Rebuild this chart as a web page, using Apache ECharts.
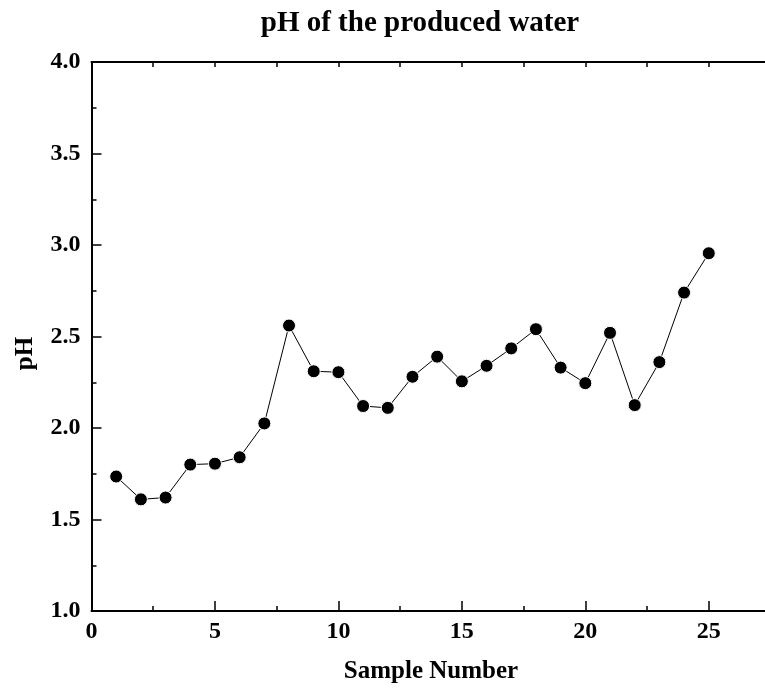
<!DOCTYPE html>
<html>
<head>
<meta charset="utf-8">
<script src="https://cdn.jsdelivr.net/npm/echarts@6/dist/echarts.min.js"></script>
<style>html,body{margin:0;padding:0;background:#fff;}#c{width:765px;height:698px;}</style>
</head>
<body>
<div id="c"></div>
<script>
const sampleNumbers = [1,2,3,4,5,6,7,8,9,10,11,12,13,14,15,16,17,18,19,20,21,22,23,24,25];
const phValues = [1.735,1.61,1.62,1.80,1.805,1.84,2.025,2.56,2.31,2.305,2.12,2.11,2.28,2.39,2.255,2.34,2.435,2.54,2.33,2.245,2.52,2.125,2.36,2.74,2.955];
const xTickLabels = [0,5,10,15,20,25];
const yTickLabels = ['1.0','1.5','2.0','2.5','3.0','3.5','4.0'];

const FONT = '"Liberation Serif", "Times New Roman", serif';
const chart = echarts.init(document.getElementById('c'), null, {renderer:'canvas'});
const points = sampleNumbers.map((x,i)=>[x, phValues[i]]);
chart.setOption({
  animation:false,
  backgroundColor:'#fff',
  title:{
    text:'pH of the produced water',
    left:415, top:4, textAlign:'center',
    textStyle:{fontFamily:FONT, fontWeight:'bold', fontSize:29, color:'#000'}
  },
  grid:{left:91.5, top:62, right:-5.5, bottom:87, containLabel:false, outerBoundsMode:'none'},
  xAxis:[{
    type:'value', min:0, max:27.5, interval:5, position:'bottom',
    name:'Sample Number', nameLocation:'middle', nameGap:48,
    nameTextStyle:{fontFamily:FONT, fontWeight:'bold', fontSize:25, color:'#000'},
    axisLine:{show:true, onZero:false, lineStyle:{color:'#000', width:2}},
    axisTick:{show:true, inside:true, length:10, lineStyle:{color:'#000', width:1.5}},
    minorTick:{show:true, splitNumber:2, length:5, lineStyle:{color:'#000', width:1.5}},
    axisLabel:{fontFamily:FONT, fontWeight:'bold', fontSize:24, color:'#000', margin:9,
      formatter:v=> xTickLabels.includes(v) ? String(v) : ''},
    splitLine:{show:false}
  },{
    type:'value', min:0, max:27.5, interval:2.5, position:'top',
    axisLine:{show:true, onZero:false, lineStyle:{color:'#000', width:2}},
    axisTick:{show:true, inside:true, length:5, lineStyle:{color:'#000', width:1.5}},
    axisLabel:{show:false}, splitLine:{show:false}
  }],
  yAxis:{
    type:'value', min:1, max:4, interval:0.5,
    name:'pH', nameLocation:'middle', nameGap:53, nameRotate:90,
    nameTextStyle:{fontFamily:FONT, fontWeight:'bold', fontSize:25, color:'#000', padding:[0,34,0,0]},
    axisLine:{show:true, onZero:false, lineStyle:{color:'#000', width:2}},
    axisTick:{show:true, inside:true, length:10, lineStyle:{color:'#000', width:1.5}},
    minorTick:{show:true, splitNumber:2, length:5, lineStyle:{color:'#000', width:1.5}},
    axisLabel:{fontFamily:FONT, fontWeight:'bold', fontSize:24, color:'#000', margin:11,
      formatter:v=>{const s=v.toFixed(1); return yTickLabels.includes(s)?s:'';}},
    splitLine:{show:false}
  },
  series:[{
    type:'line', data:points, xAxisIndex:0,
    symbol:'circle', symbolSize:13,
    lineStyle:{color:'#000', width:1},
    itemStyle:{color:'#000', borderColor:'#fff', borderWidth:1},
    emphasis:{disabled:true}
  }]
});
</script>
</body>
</html>
